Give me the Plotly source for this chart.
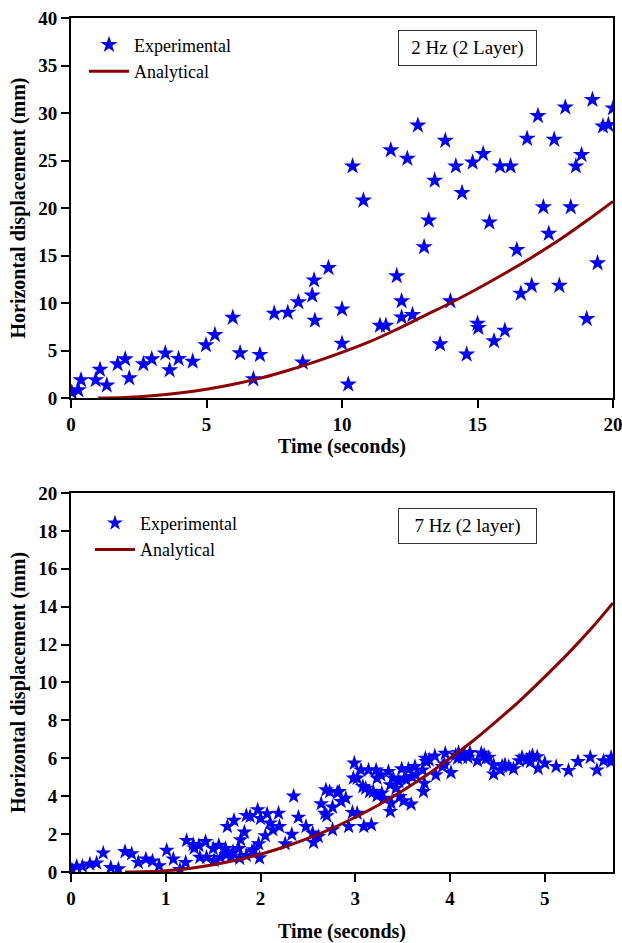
import plotly.graph_objects as go

# ---------- Top panel: 2 Hz (2 Layer) ----------
top_exp_t = [0.03, 0.27, 0.37, 0.91, 1.07, 1.32, 1.72, 2.0, 2.15, 2.67, 2.98, 3.48, 3.64, 3.97,
             4.49, 4.98, 5.31, 5.97, 6.24, 6.73, 6.97, 7.5, 8.0, 8.39, 8.55, 8.9, 8.97, 9.0,
             9.5, 10.0, 10.0, 10.23, 10.39, 10.79, 11.4, 11.62, 11.8, 12.02, 12.2, 12.2, 12.41,
             12.6, 12.8, 13.03, 13.2, 13.42, 13.62, 13.81, 14.0, 14.2, 14.43, 14.6, 14.82,
             15.0, 15.03, 15.21, 15.44, 15.61, 15.83, 16.01, 16.22, 16.45, 16.6, 16.83, 17.0,
             17.23, 17.43, 17.63, 17.83, 18.02, 18.24, 18.44, 18.63, 18.84, 19.03, 19.24,
             19.43, 19.63, 19.83, 20.0]
top_exp_v = [0.6, 0.84, 1.9, 1.9, 3.0, 1.33, 3.57, 4.1, 2.1, 3.57, 4.1, 4.7, 2.94, 4.13,
             3.85, 5.57, 6.65, 8.47, 4.73, 2.0, 4.55, 8.9, 9.0, 10.1, 3.75, 10.8, 12.4, 8.16,
             13.7, 9.35, 5.74, 1.44, 24.4, 20.8, 7.63, 7.63, 26.1, 12.85, 10.2, 8.5, 25.2,
             8.75, 28.7, 15.9, 18.7, 22.9, 5.67, 27.1, 10.2, 24.4, 21.6, 4.59, 24.8,
             7.84, 7.4, 25.7, 18.5, 5.99, 24.4, 7.1, 24.4, 15.6, 11.0, 27.3, 11.84,
             29.7, 20.1, 17.3, 27.2, 11.84, 30.6, 20.1, 24.4, 25.6, 8.33, 31.4,
             14.2, 28.6, 28.75, 30.5]
top_ana_t = [1, 2, 3, 4, 5, 6, 7, 8, 9, 10, 11, 12, 13, 14, 15, 16, 17, 18, 19, 20]
top_ana_v = [0.0, 0.06, 0.23, 0.52, 0.92, 1.45, 2.1, 2.9, 3.8, 4.8, 5.9, 7.2, 8.6, 10.0,
             11.5, 13.1, 14.8, 16.6, 18.6, 20.7]

# ---------- Bottom panel: 7 Hz (2 layer) ----------
bot_exp_t = [0.01, 0.06, 0.12, 0.2, 0.27, 0.34, 0.42, 0.5, 0.57, 0.64, 0.71, 0.79, 0.86, 0.93,
             1.01, 1.08, 1.15, 1.21, 1.22, 1.29, 1.3, 1.35, 1.36, 1.42, 1.43, 1.5, 1.51, 1.56,
             1.58, 1.63, 1.64, 1.65, 1.69, 1.71, 1.72, 1.77, 1.78, 1.79, 1.83, 1.85, 1.85,
             1.89, 1.91, 1.93, 1.97, 1.98, 1.99, 2.0, 2.05, 2.07, 2.1, 2.13, 2.19, 2.2, 2.26,
             2.33, 2.35, 2.4, 2.48, 2.55, 2.56, 2.61, 2.64, 2.68, 2.69, 2.7, 2.73, 2.76, 2.76,
             2.81, 2.83, 2.85, 2.9, 2.93, 2.97, 2.99, 2.98, 3.02, 3.02, 3.06, 3.08, 3.09, 3.11,
             3.14, 3.15, 3.17, 3.19, 3.22, 3.23, 3.23, 3.27, 3.28, 3.3, 3.35, 3.37, 3.37, 3.38,
             3.4, 3.43, 3.46, 3.47, 3.49, 3.51, 3.52, 3.54, 3.56, 3.59, 3.6, 3.63, 3.64, 3.71,
             3.72, 3.73, 3.74, 3.75, 3.78, 3.84, 3.85, 3.92, 3.94, 3.95, 4.01, 4.06, 4.08,
             4.09, 4.13, 4.15, 4.19, 4.21, 4.29, 4.33, 4.36, 4.38, 4.41, 4.46, 4.46, 4.53,
             4.55, 4.58, 4.62, 4.67, 4.73, 4.76, 4.81, 4.84, 4.85, 4.87, 4.92, 4.93, 5.0,
             5.12, 5.25, 5.35, 5.48, 5.55, 5.62, 5.7, 5.7]
bot_exp_v = [0.12, 0.3, 0.3, 0.42, 0.47, 1.0, 0.23, 0.16, 1.07, 0.96, 0.5, 0.68, 0.58, 0.33,
             1.14, 0.68, 0.12, 0.5, 1.66, 1.45, 1.26, 1.4, 0.77, 1.6, 0.77, 1.24, 0.61, 1.4,
             0.77, 1.24, 0.91, 2.4, 0.82, 1.09, 2.72, 1.24, 0.72, 1.7, 2.1, 2.98, 0.87,
             2.93, 1.09, 1.17, 3.28, 1.49, 0.74, 2.82, 1.91, 3.07, 2.58, 2.23, 3.1, 2.4, 1.49,
             1.98, 4.0, 2.89, 2.4, 2.05, 1.56, 1.87, 3.6, 3.1, 4.33, 2.96, 4.24, 3.42, 2.23,
             4.19, 4.24, 3.72, 3.89, 2.4, 3.14, 5.74, 4.95, 4.95, 3.1, 5.38, 4.5, 2.4, 4.42,
             5.38, 4.24, 2.49, 4.24, 5.38, 4.95, 4.02, 5.12, 4.16, 3.89, 5.3, 4.6, 3.19, 3.63,
             4.95, 4.42, 4.77, 3.98, 5.44, 3.75, 4.95, 4.86, 5.42, 3.58, 5.03, 5.56, 5.12, 5.38,
             4.24, 4.68, 6.0, 5.82, 5.91, 6.12, 5.12, 5.56, 5.7, 6.26, 5.24, 6.17, 6.0,
             6.3, 6.05, 6.26, 6.05, 6.3, 5.87, 6.26, 6.17, 6.0, 6.05, 5.65, 5.17, 5.38,
             5.59, 5.65, 5.56, 5.44, 5.87, 6.05, 5.91, 6.05, 5.82, 6.14, 6.08, 5.47, 5.74,
             5.56, 5.35, 5.82, 6.05, 5.38, 5.87, 5.82, 6.05]
bot_ana_t = [0.57, 0.75, 1.0, 1.25, 1.5, 1.75, 2.0, 2.25, 2.5, 2.75, 3.0, 3.25, 3.5, 3.75,
             4.0, 4.25, 4.5, 4.75, 5.0, 5.25, 5.5, 5.72]
bot_ana_v = [0.0, 0.01, 0.07, 0.19, 0.38, 0.63, 0.94, 1.32, 1.77, 2.29, 2.89, 3.55, 4.29,
             5.1, 6.0, 6.95, 8.0, 9.1, 10.3, 11.55, 12.9, 14.2]

x_ticks_top = [0, 5, 10, 15, 20]
y_ticks_top = [0, 5, 10, 15, 20, 25, 30, 35, 40]
x_ticks_bot = [0, 1, 2, 3, 4, 5]
y_ticks_bot = [0, 2, 4, 6, 8, 10, 12, 14, 16, 18, 20]

FONT = "Liberation Serif, Times New Roman, serif"
BLUE = "#0000FF"
RED = "#8B0000"

fig = go.Figure()
fig.add_trace(go.Scatter(x=top_exp_t, y=top_exp_v, mode="markers", name="Experimental",
                         marker=dict(symbol="star", size=13, color=BLUE, line=dict(width=0)),
                         xaxis="x", yaxis="y", legend="legend"))
fig.add_trace(go.Scatter(x=top_ana_t, y=top_ana_v, mode="lines", name="Analytical",
                         line=dict(color=RED, width=3, shape="spline"),
                         xaxis="x", yaxis="y", legend="legend"))
fig.add_trace(go.Scatter(x=bot_exp_t, y=bot_exp_v, mode="markers", name="Experimental",
                         marker=dict(symbol="star", size=12, color=BLUE, line=dict(width=0)),
                         xaxis="x2", yaxis="y2", legend="legend2"))
fig.add_trace(go.Scatter(x=bot_ana_t, y=bot_ana_v, mode="lines", name="Analytical",
                         line=dict(color=RED, width=3, shape="spline"),
                         xaxis="x2", yaxis="y2", legend="legend2"))

axis_common = dict(showline=True, linecolor="black", linewidth=2, mirror=True,
                   ticks="outside", ticklen=8, tickwidth=2, tickcolor="black",
                   showgrid=False, zeroline=False, automargin=False,
                   ticklabeloverflow="allow",
                   tickfont=dict(family=FONT, size=19, color="black", weight="bold"))
title_font = dict(family=FONT, size=20, color="black", weight="bold")

fig.update_layout(
    width=622, height=943,
    margin=dict(l=71, r=9, t=18, b=71),
    paper_bgcolor="white", plot_bgcolor="white",
    xaxis=dict(domain=[0, 1], range=[0, 20], tickvals=x_ticks_top, anchor="y",
               title=dict(text="Time (seconds)", font=title_font, standoff=3), **axis_common),
    yaxis=dict(domain=[0.555, 1], range=[0, 40], tickvals=y_ticks_top, anchor="x",
               title=dict(text="Horizontal displacement (mm)", font=title_font, standoff=7),
               **axis_common),
    xaxis2=dict(domain=[0, 1], range=[0, 5.72], tickvals=x_ticks_bot, anchor="y2",
                title=dict(text="Time (seconds)", font=title_font, standoff=28), **axis_common),
    yaxis2=dict(domain=[0, 0.4438], range=[0, 20], tickvals=y_ticks_bot, anchor="x2",
                title=dict(text="Horizontal displacement (mm)", font=title_font, standoff=7),
                **axis_common),
    legend=dict(x=0.024, y=0.99, xanchor="left", yanchor="top", bgcolor="rgba(0,0,0,0)",
                font=dict(family=FONT, size=18, color="black"), tracegroupgap=0,
                itemwidth=40),
    legend2=dict(x=0.035, y=0.43, xanchor="left", yanchor="top", bgcolor="rgba(0,0,0,0)",
                 font=dict(family=FONT, size=18, color="black"), tracegroupgap=0,
                 itemwidth=40),
    showlegend=True,
)

fig.add_annotation(x=0.732, y=0.922, xref="x domain", yref="y domain", text="2 Hz (2 Layer)",
                   xanchor="center", yanchor="middle",
                   showarrow=False, font=dict(family=FONT, size=19, color="black"),
                   width=125, height=22, borderpad=6,
                   bordercolor="#333333", borderwidth=1, bgcolor="white")
fig.add_annotation(x=0.732, y=0.912, xref="x2 domain", yref="y2 domain", text="7 Hz (2 layer)",
                   xanchor="center", yanchor="middle",
                   showarrow=False, font=dict(family=FONT, size=19, color="black"),
                   width=125, height=22, borderpad=6,
                   bordercolor="#333333", borderwidth=1, bgcolor="white")

fig.write_html("out.html")
